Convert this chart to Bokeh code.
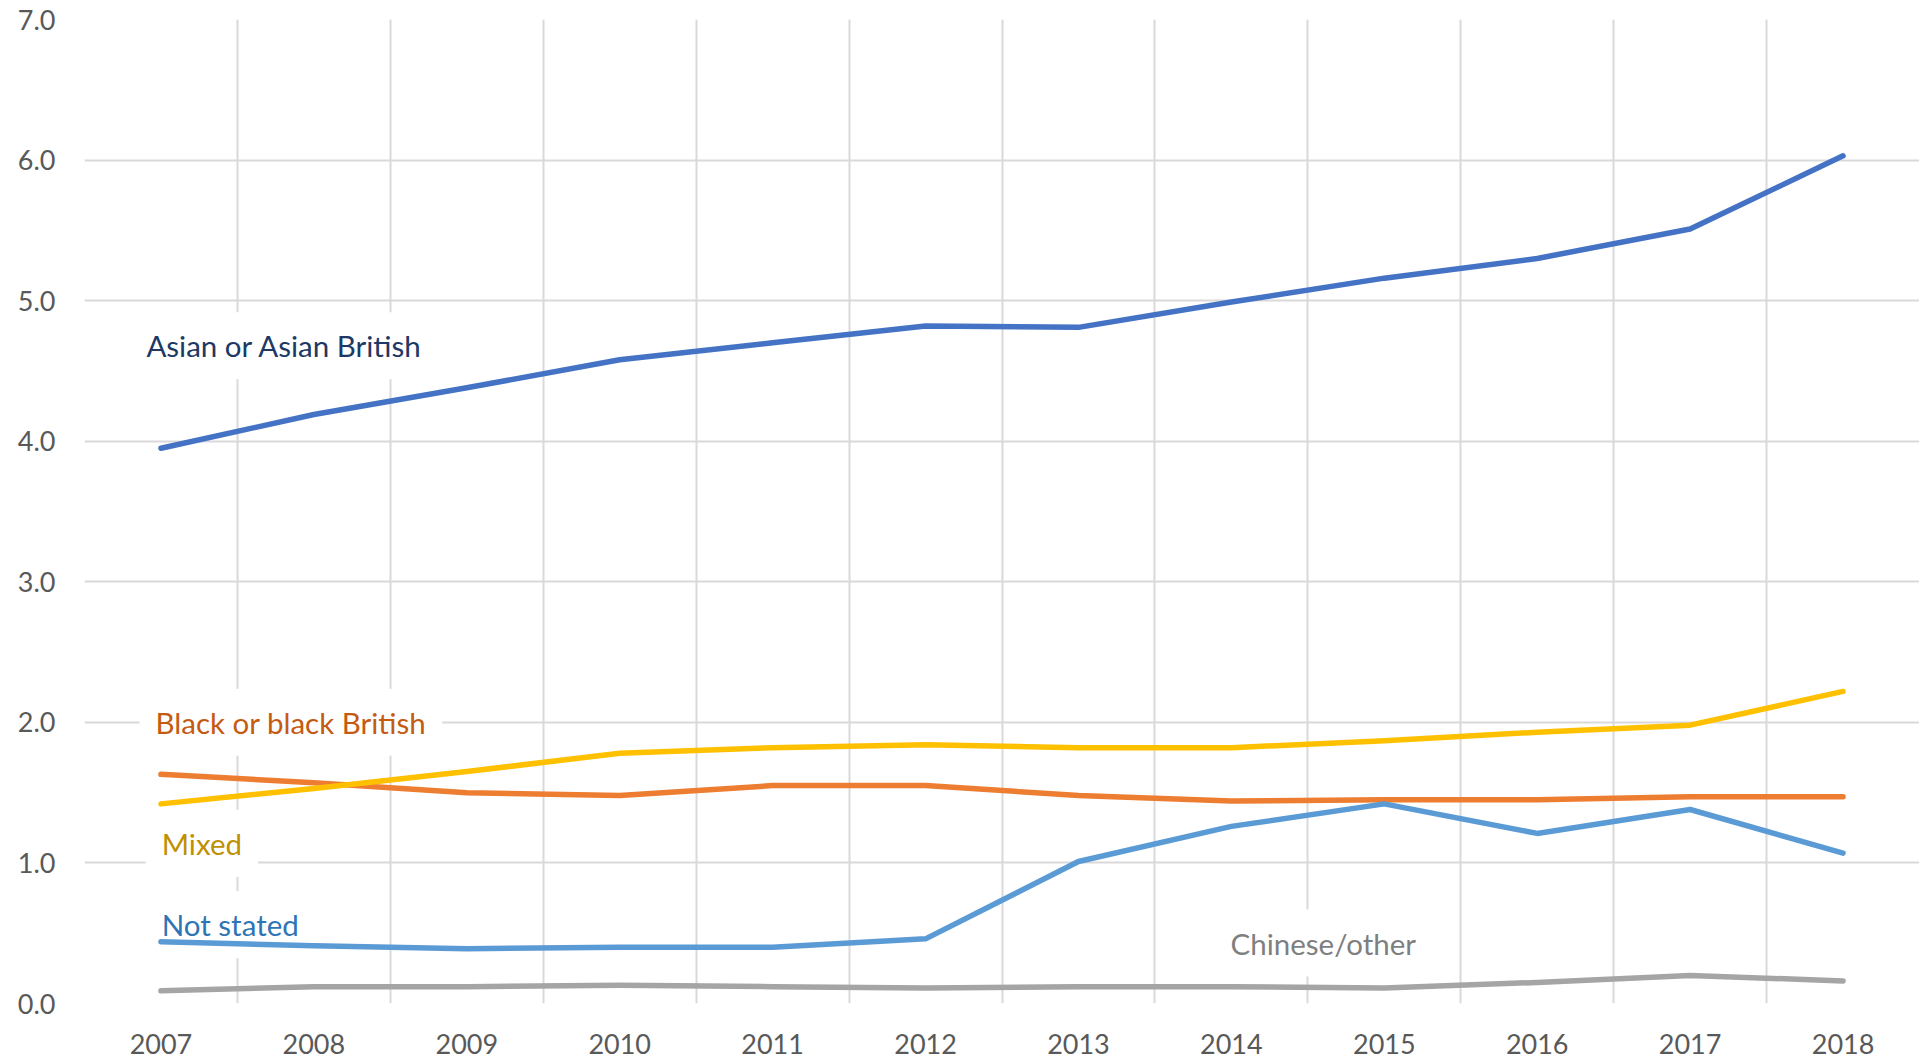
from bokeh.plotting import figure
from bokeh.models import Label, FixedTicker, Range1d, NumeralTickFormatter
from bokeh.embed import file_html
from bokeh.resources import INLINE

# ---- data ----
years = [2007, 2008, 2009, 2010, 2011, 2012, 2013, 2014, 2015, 2016, 2017, 2018]
asian = [3.95, 4.19, 4.38, 4.58, 4.70, 4.82, 4.81, 4.99, 5.16, 5.30, 5.51, 6.03]
black = [1.63, 1.57, 1.50, 1.48, 1.55, 1.55, 1.48, 1.44, 1.45, 1.45, 1.47, 1.47]
mixed = [1.42, 1.53, 1.65, 1.78, 1.82, 1.84, 1.82, 1.82, 1.87, 1.93, 1.98, 2.22]
not_stated = [0.44, 0.41, 0.39, 0.40, 0.40, 0.46, 1.01, 1.26, 1.42, 1.21, 1.38, 1.07]
chinese = [0.09, 0.12, 0.12, 0.13, 0.12, 0.11, 0.12, 0.12, 0.11, 0.15, 0.20, 0.16]
series_names = ["Asian or Asian British", "Black or black British", "Mixed",
                "Not stated", "Chinese/other"]
y_ticks = [0, 1, 2, 3, 4, 5, 6, 7]

# ---- styles ----
line_colors = ["#4472C4", "#ED7D31", "#FFC000", "#5B9BD5", "#A5A5A5"]
label_colors = ["#203864", "#C55A11", "#BF9000", "#2E75B6", "#7F7F7F"]
# label anchor positions (data coords: x = year, y = baseline value)
label_pos = [(2006.80, 4.68), (2006.86, 2.00), (2006.90, 1.14),
             (2006.90, 0.56), (2013.89, 0.43)]
FONT = "Lato"

p = figure(width=1919, height=1061, output_backend="svg", toolbar_location=None,
           min_border_left=84, min_border_right=0, min_border_top=19,
           min_border_bottom=58)
p.x_range = Range1d(years[0] - 0.5, years[-1] + 0.5)
p.y_range = Range1d(y_ticks[0], y_ticks[-1])
p.outline_line_color = None
p.background_fill_color = "white"
p.border_fill_color = "white"

# grid
p.xgrid.ticker = FixedTicker(ticks=[y - 0.5 for y in years] + [years[-1] + 0.5])
p.ygrid.ticker = FixedTicker(ticks=y_ticks)
for g in (p.xgrid, p.ygrid):
    g.grid_line_color = "#D9D9D9"
    g.grid_line_width = 2

# axes
p.xaxis.ticker = FixedTicker(ticks=years)
p.yaxis.ticker = FixedTicker(ticks=y_ticks)
p.yaxis.formatter = NumeralTickFormatter(format="0.0")
for ax in (p.xaxis, p.yaxis):
    ax.axis_line_color = None
    ax.major_tick_line_color = None
    ax.minor_tick_line_color = None
    ax.major_label_text_font = FONT
    ax.major_label_text_font_size = "27px"
    ax.major_label_text_color = "#595959"
p.yaxis.major_label_standoff = 23
p.xaxis.major_label_standoff = 24

series = [asian, black, mixed, not_stated, chinese]
for name, vals, col, lcol, (lx, ly) in zip(series_names, series, line_colors,
                                           label_colors, label_pos):
    p.add_layout(Label(x=lx, y=ly, text=name, text_font=FONT, text_font_size="29.5px",
                       text_color=lcol, text_baseline="alphabetic",
                       background_fill_color="white", padding=16, level="underlay"))

draw_order = [0, 1, 2, 4, 3]
for i in draw_order:
    p.line(years, series[i], line_color=line_colors[i], line_width=5.5,
           line_cap="round", line_join="round")

open("out.html", "w").write(file_html(p, INLINE))
